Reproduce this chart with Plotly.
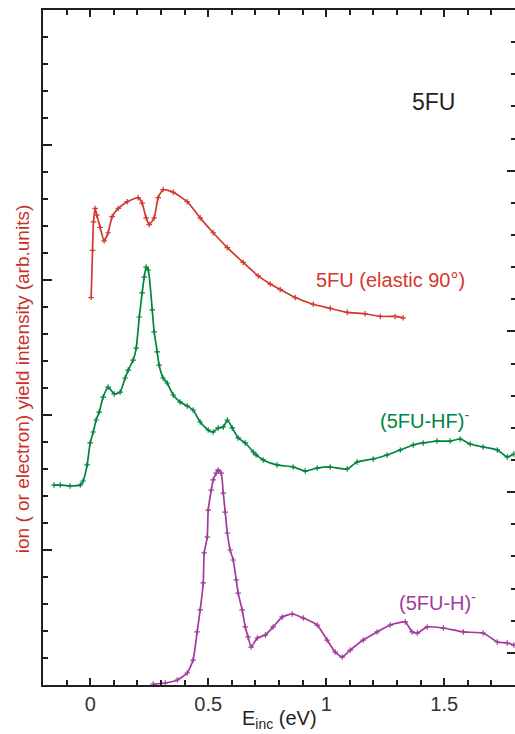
import plotly.graph_objects as go

# --- data ---
red_E = [0.004, 0.010, 0.014, 0.021, 0.028, 0.042, 0.059, 0.076, 0.093, 0.119, 0.157, 0.203,
         0.220, 0.237, 0.250, 0.271, 0.288, 0.309, 0.352, 0.411, 0.466, 0.521, 0.581, 0.648,
         0.712, 0.763, 0.805, 0.869, 0.945, 1.017, 1.089, 1.165, 1.229, 1.292, 1.326]
red_Y = [2.87, 3.22, 3.43, 3.53, 3.48, 3.39, 3.29, 3.35, 3.47, 3.53, 3.58, 3.61,
         3.57, 3.46, 3.41, 3.46, 3.61, 3.67, 3.65, 3.58, 3.46, 3.35, 3.24, 3.13,
         3.03, 2.97, 2.93, 2.87, 2.82, 2.79, 2.76, 2.75, 2.73, 2.73, 2.72]

green_E = [-0.153, -0.127, -0.085, -0.042, -0.030, -0.013, 0.000, 0.013, 0.025, 0.038, 0.055,
           0.076, 0.102, 0.127, 0.148, 0.161, 0.182, 0.195, 0.208, 0.220, 0.229, 0.237, 0.246,
           0.263, 0.271, 0.284, 0.292, 0.309, 0.326, 0.352, 0.381, 0.411, 0.436, 0.466, 0.500,
           0.521, 0.542, 0.564, 0.581, 0.602, 0.627, 0.657, 0.691, 0.703, 0.733, 0.792, 0.860,
           0.911, 0.962, 1.017, 1.089, 1.131, 1.199, 1.258, 1.314, 1.369, 1.411, 1.470, 1.525,
           1.568, 1.610, 1.665, 1.725, 1.767, 1.795]
green_Y = [1.481, 1.481, 1.474, 1.481, 1.511, 1.630, 1.793, 1.874, 1.963, 2.022, 2.133,
           2.207, 2.156, 2.170, 2.274, 2.333, 2.407, 2.496, 2.726, 2.904, 3.022, 3.096, 3.074,
           2.778, 2.615, 2.467, 2.370, 2.274, 2.237, 2.148, 2.096, 2.067, 2.037, 1.948, 1.889,
           1.874, 1.904, 1.911, 1.963, 1.904, 1.830, 1.793, 1.726, 1.704, 1.667, 1.630, 1.615,
           1.585, 1.607, 1.615, 1.600, 1.652, 1.674, 1.704, 1.741, 1.778, 1.793, 1.807, 1.807,
           1.822, 1.785, 1.763, 1.741, 1.689, 1.711]

purple_E = [0.267, 0.318, 0.369, 0.411, 0.436, 0.453, 0.466, 0.479, 0.483, 0.496, 0.500, 0.513,
            0.521, 0.534, 0.542, 0.555, 0.564, 0.572, 0.581, 0.593, 0.606, 0.619, 0.627, 0.644,
            0.657, 0.669, 0.682, 0.708, 0.742, 0.775, 0.814, 0.856, 0.903, 0.962, 1.004, 1.038,
            1.068, 1.102, 1.157, 1.216, 1.271, 1.335, 1.364, 1.386, 1.428, 1.496, 1.581, 1.665,
            1.725, 1.767, 1.795]
purple_Y = [0.007, 0.015, 0.037, 0.089, 0.185, 0.393, 0.556, 0.756, 0.978, 1.096, 1.296, 1.444,
            1.519, 1.570, 1.593, 1.570, 1.422, 1.281, 1.126, 1.000, 0.926, 0.778, 0.681, 0.556,
            0.430, 0.356, 0.281, 0.348, 0.370, 0.430, 0.504, 0.526, 0.496, 0.444, 0.333, 0.244,
            0.207, 0.259, 0.333, 0.393, 0.444, 0.467, 0.393, 0.385, 0.430, 0.422, 0.393, 0.385,
            0.319, 0.311, 0.296]

x_ticks = [0, 0.5, 1, 1.5]
x_tick_text = ["0", "0.5", "1", "1.5"]

RED = "#d2382e"
GREEN = "#00843f"
PURPLE = "#a13a9c"
AXIS = "#231f20"
FONT = "Arial, Liberation Sans, sans-serif"

fig = go.Figure()
for xs, ys, col in [(red_E, red_Y, RED), (green_E, green_Y, GREEN), (purple_E, purple_Y, PURPLE)]:
    fig.add_trace(go.Scatter(
        x=xs, y=ys, mode="lines+markers",
        line=dict(color=col, width=1.7, shape="spline", smoothing=0.5),
        marker=dict(symbol="cross-thin", size=4, line=dict(color=col, width=1.2)),
        showlegend=False, hoverinfo="skip"))

# invisible trace carrying the right-hand tick scale
fig.add_trace(go.Scatter(x=[None], y=[None], yaxis="y2", showlegend=False, hoverinfo="skip"))

fig.update_layout(
    width=515, height=734,
    margin=dict(l=43, r=0, t=10, b=49),
    paper_bgcolor="white", plot_bgcolor="white",
    font=dict(family=FONT, color=AXIS),
    xaxis=dict(range=[-0.2, 1.8], tickvals=x_ticks, ticktext=x_tick_text,
               ticks="inside", ticklen=7, tickwidth=1.5, tickcolor=AXIS,
               showline=True, linewidth=1.5, linecolor=AXIS, mirror="ticks",
               showgrid=False, zeroline=False,
               tickfont=dict(size=20, family=FONT, color="#333333"),
               minor=dict(dtick=0.1, tick0=0, ticks="inside", ticklen=5, tickwidth=1.5,
                          tickcolor=AXIS, showgrid=False)),
    yaxis=dict(range=[0, 5], dtick=1, tick0=0, showticklabels=False,
               ticks="inside", ticklen=9, tickwidth=1.5, tickcolor=AXIS,
               showline=True, linewidth=1.5, linecolor=AXIS,
               showgrid=False, zeroline=False,
               minor=dict(dtick=0.2, tick0=0, ticks="inside", ticklen=5, tickwidth=1.5,
                          tickcolor=AXIS, showgrid=False)),
    yaxis2=dict(range=[-0.2, 4.0], dtick=1, tick0=0, overlaying="y", side="right",
                showticklabels=False, ticks="inside", ticklen=8, tickwidth=1.5, tickcolor=AXIS,
                showline=False, showgrid=False, zeroline=False,
                minor=dict(dtick=0.2, tick0=0, ticks="inside", ticklen=4, tickwidth=1.5,
                           tickcolor=AXIS, showgrid=False)),
)

ann = [
    dict(text="5FU", x=1.453, y=4.32, font=dict(size=23, color=AXIS), xanchor="center"),
    dict(text="5FU (elastic 90°)", x=1.273, y=3.0, font=dict(size=20, color=RED), xanchor="center"),
    dict(text="(5FU-HF)<sup>-</sup>", x=1.22, y=1.97, font=dict(size=20, color=GREEN), xanchor="left"),
    dict(text="(5FU-H)<sup>-</sup>", x=1.30, y=0.615, font=dict(size=20, color=PURPLE), xanchor="left"),
]
for a in ann:
    fig.add_annotation(xref="x", yref="y", showarrow=False, yanchor="middle",
                       font_family=FONT, **{k: v for k, v in a.items()})

fig.add_annotation(text="ion ( or electron) yield intensity (arb.units)", textangle=-90,
                   xref="paper", yref="paper", x=-0.0445, y=0.453, showarrow=False,
                   xanchor="center", yanchor="middle", font=dict(size=19, color="#c8302e", family=FONT))
fig.add_annotation(text="E<sub>inc</sub> (eV)", xref="paper", yref="paper", x=0.5, y=-0.051,
                   showarrow=False, xanchor="center", yanchor="middle",
                   font=dict(size=20, color=AXIS, family=FONT))

fig.write_html("out.html")
